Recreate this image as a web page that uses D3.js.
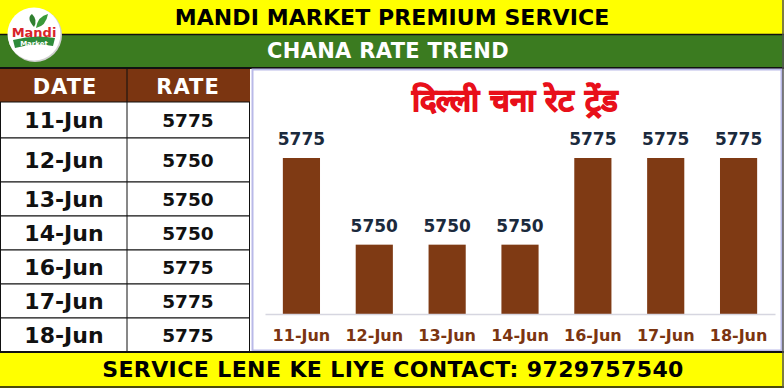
<!DOCTYPE html>
<html>
<head>
<meta charset="utf-8">
<script src="https://cdn.jsdelivr.net/npm/d3@7"></script>
<style>
  body { margin: 0; background: #fff; }
  text { font-family: "DejaVu Sans", Verdana, sans-serif; font-weight: bold; }
</style>
</head>
<body>
<svg id="vis" width="784" height="388"></svg>
<script>
// chart data
const dates = ["11-Jun", "12-Jun", "13-Jun", "14-Jun", "16-Jun", "17-Jun", "18-Jun"];
const rates = [5775, 5750, 5750, 5750, 5775, 5775, 5775];
const headerTitle = "MANDI MARKET PREMIUM SERVICE";
const subTitle = "CHANA RATE TREND";
const chartTitle = "दिल्ली चना रेट ट्रेंड";
const footerText = "SERVICE LENE KE LIYE CONTACT: 9729757540";
const tableHeads = ["DATE", "RATE"];

// row edges of the table (layout only)
const rowEdges = [102, 138, 182, 216, 250, 284, 318, 352];

let svg = d3.select("#vis");
const W = 784, H = 388;

// top yellow band
svg.append("rect").attr("x", 0).attr("y", 0).attr("width", W).attr("height", 35).attr("fill", "#ffff00");
svg.append("text").attr("x", 392).attr("y", 25).attr("text-anchor", "middle")
  .attr("font-size", 22).attr("letter-spacing", 0.1).attr("fill", "#000").text(headerTitle);

// green band
svg.append("rect").attr("x", 0).attr("y", 35).attr("width", W).attr("height", 33).attr("fill", "#3b7b20");
svg.append("line").attr("x1", 0).attr("x2", W).attr("y1", 34.5).attr("y2", 34.5).attr("stroke", "#111").attr("stroke-width", 1.5);
svg.append("line").attr("x1", 0).attr("x2", W).attr("y1", 68).attr("y2", 68).attr("stroke", "#111").attr("stroke-width", 2);
svg.append("text").attr("x", 388).attr("y", 58).attr("text-anchor", "middle")
  .attr("font-size", 21).attr("letter-spacing", 0.3).attr("fill", "#fff").text(subTitle);

// logo
let logo = svg.append("g").attr("transform", "translate(34,34)");
logo.append("circle").attr("r", 27).attr("fill", "#cfcfcf").attr("cx", 1).attr("cy", 1);
logo.append("circle").attr("r", 26.5).attr("fill", "#fff");
logo.append("path").attr("d", "M-21,6 Q0,0 21,4 L19,12 Q0,8 -19,14 Z").attr("fill", "#2e8b3a");
logo.append("path").attr("d", "M2,-6 Q4,-18 14,-20 Q12,-8 2,-6 Z").attr("fill", "#3a9a3a");
logo.append("path").attr("d", "M0,-7 Q-8,-16 -2,-20 Q4,-14 0,-7 Z").attr("fill", "#2f7f2f");
logo.append("text").attr("x", 0).attr("y", 3).attr("text-anchor", "middle")
  .attr("font-size", 13).attr("fill", "#d8232a").text("Mandi");
logo.append("text").attr("x", 0).attr("y", 12).attr("text-anchor", "middle")
  .attr("font-size", 7).attr("fill", "#fff").text("Market");

// table
let table = svg.append("g");
table.append("rect").attr("x", 0).attr("y", 69).attr("width", 250).attr("height", 33).attr("fill", "#7b3511");
table.selectAll(".head")
  .data(tableHeads)
  .enter()
  .append("text")
  .attr("x", (d, i) => i == 0 ? 65 : 188)
  .attr("y", 94)
  .attr("text-anchor", "middle")
  .attr("font-size", 21)
  .attr("letter-spacing", 1)
  .attr("fill", "#fff")
  .text(d => d);

table.selectAll(".row")
  .data(dates)
  .enter()
  .append("rect")
  .attr("x", 0.5)
  .attr("y", (d, i) => rowEdges[i])
  .attr("width", 249)
  .attr("height", (d, i) => rowEdges[i + 1] - rowEdges[i])
  .attr("fill", "#fff")
  .attr("stroke", "#111")
  .attr("stroke-width", 1);

table.append("line").attr("x1", 127).attr("x2", 127).attr("y1", 69).attr("y2", 352)
  .attr("stroke", "#111").attr("stroke-width", 1);

table.selectAll(".dateTxt")
  .data(dates)
  .enter()
  .append("text")
  .attr("x", 64)
  .attr("y", (d, i) => (rowEdges[i] + rowEdges[i + 1]) / 2 + 8)
  .attr("text-anchor", "middle")
  .attr("font-size", 22)
  .attr("fill", "#111")
  .text(d => d);

table.selectAll(".rateTxt")
  .data(rates)
  .enter()
  .append("text")
  .attr("x", 188)
  .attr("y", (d, i) => (rowEdges[i] + rowEdges[i + 1]) / 2 + 7)
  .attr("text-anchor", "middle")
  .attr("font-size", 18.5)
  .attr("fill", "#111")
  .text(d => d);

// chart panel
svg.append("rect").attr("x", 252.5).attr("y", 69.5).attr("width", 529).attr("height", 281)
  .attr("fill", "#fff").attr("stroke", "#b9b9e8").attr("stroke-width", 2);

svg.append("text").attr("x", 515).attr("y", 111).attr("text-anchor", "middle")
  .attr("font-family", "'Noto Sans Devanagari', 'Noto Sans', sans-serif")
  .attr("font-size", 31).attr("fill", "#e8101a")
  .attr("stroke", "#e8101a").attr("stroke-width", 1.1)
  .text(chartTitle);

let x = d3.scaleBand()
  .domain(dates)
  .range([265, 775])
  .paddingInner(0.49)
  .paddingOuter(0.245);

let y = d3.scaleLinear()
  .domain([5730, 5775])
  .range([314, 158]);

let chart = svg.append("g");
chart.selectAll(".bar")
  .data(rates)
  .enter()
  .append("rect")
  .attr("x", (d, i) => x(dates[i]))
  .attr("y", d => y(d))
  .attr("width", x.bandwidth())
  .attr("height", d => y.range()[0] - y(d))
  .attr("fill", "#7f3a14");

chart.selectAll(".val")
  .data(rates)
  .enter()
  .append("text")
  .attr("x", (d, i) => x(dates[i]) + x.bandwidth() / 2)
  .attr("y", d => y(d) - 13)
  .attr("text-anchor", "middle")
  .attr("font-size", 17)
  .attr("fill", "#1b2a3d")
  .text(d => d);

let xAxis = d3.axisBottom(x).tickSize(0).tickPadding(16);
let ax = svg.append("g").attr("transform", "translate(0,314)").call(xAxis);
ax.select(".domain").attr("stroke", "#d6d6e0").attr("stroke-width", 1.5);
ax.selectAll("text")
  .attr("font-size", 16)
  .attr("font-family", "'DejaVu Sans', sans-serif")
  .attr("font-weight", "bold")
  .attr("fill", "#7b3511");

// footer
svg.append("rect").attr("x", 0).attr("y", 352).attr("width", W).attr("height", 36).attr("fill", "#ffff00");
svg.append("line").attr("x1", 0).attr("x2", W).attr("y1", 352).attr("y2", 352).attr("stroke", "#111").attr("stroke-width", 2);
svg.append("line").attr("x1", 0).attr("x2", W).attr("y1", 387).attr("y2", 387).attr("stroke", "#111").attr("stroke-width", 1.5);
svg.append("line").attr("x1", 783).attr("x2", 783).attr("y1", 0).attr("y2", H).attr("stroke", "#555").attr("stroke-width", 1.5);
svg.append("text").attr("x", 393).attr("y", 377).attr("text-anchor", "middle")
  .attr("font-size", 22).attr("letter-spacing", 0.4).attr("fill", "#000").text(footerText);
</script>
</body>
</html>
